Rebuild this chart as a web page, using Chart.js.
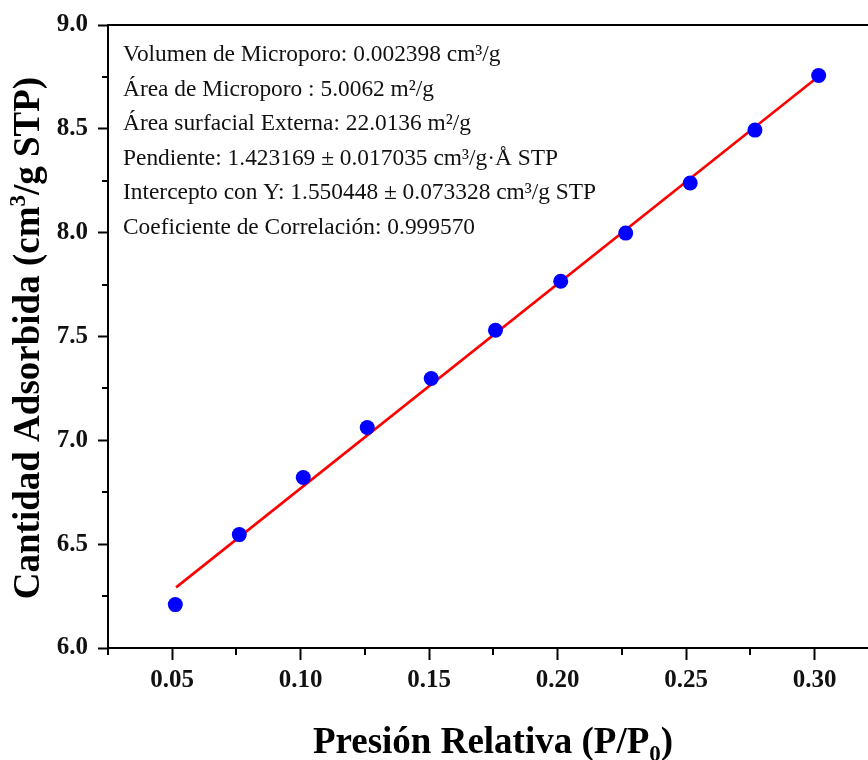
<!DOCTYPE html>
<html>
<head>
<meta charset="utf-8">
<script src="https://cdn.jsdelivr.net/npm/chart.js@4.4.0/dist/chart.umd.min.js"></script>
<style>
  html, body { margin: 0; padding: 0; background: #ffffff; }
  #wrap { width: 868px; height: 760px; position: relative; }
</style>
</head>
<body>
<div id="wrap"><canvas id="c" width="868" height="760"></canvas></div>
<script>
// Relative pressure (P/P0) and adsorbed quantity (cm3/g STP)
const pressure = [0.0512, 0.0761, 0.1010, 0.1259, 0.1508, 0.1758, 0.2012, 0.2265, 0.2516, 0.2768, 0.3016];
const adsorbed = [6.209, 6.546, 6.821, 7.062, 7.298, 7.530, 7.766, 7.998, 8.239, 8.494, 8.757];

// Linear fit end points
const fitX = [0.0515, 0.3014];
const fitY = [6.292, 8.751];

// Axis ticks
const xTicks = [0.05, 0.10, 0.15, 0.20, 0.25, 0.30];
const xMinorTicks = [0.025, 0.075, 0.125, 0.175, 0.225, 0.275, 0.325];
const yTicks = [6.0, 6.5, 7.0, 7.5, 8.0, 8.5, 9.0];
const yMinorTicks = [6.25, 6.75, 7.25, 7.75, 8.25, 8.75];

// Fit results shown inside the plot
const notes = [
  'Volumen de Microporo: 0.002398 cm³/g',
  'Área de Microporo : 5.0062 m²/g',
  'Área surfacial Externa: 22.0136 m²/g',
  'Pendiente: 1.423169 ± 0.017035 cm³/g·Å STP',
  'Intercepto con Y: 1.550448 ± 0.073328 cm³/g STP',
  'Coeficiente de Correlación: 0.999570'
];

const SERIF = '"Liberation Serif", "DejaVu Serif", serif';

// Draws a string made of normal / superscript / subscript pieces, centred at (cx, baseline)
function drawRich(ctx, parts, cx, baseline, size) {
  const small = Math.round(size * 0.62);
  let total = 0;
  parts.forEach(p => {
    ctx.font = 'bold ' + (p.s ? small : size) + 'px ' + SERIF;
    p.w = ctx.measureText(p.t).width;
    total += p.w;
  });
  let x = cx - total / 2;
  ctx.textAlign = 'left';
  ctx.textBaseline = 'alphabetic';
  parts.forEach(p => {
    ctx.font = 'bold ' + (p.s ? small : size) + 'px ' + SERIF;
    let dy = 0;
    if (p.s === 'sup') dy = -size * 0.38;
    if (p.s === 'sub') dy = size * 0.22;
    ctx.fillText(p.t, x, baseline + dy);
    x += p.w;
  });
}

const decor = {
  id: 'decor',
  afterDraw(chart) {
    const ctx = chart.ctx;
    const area = chart.chartArea;
    const xs = chart.scales.x, ys = chart.scales.y;
    ctx.save();
    ctx.strokeStyle = '#000';
    ctx.lineWidth = 2;
    // top frame line
    ctx.beginPath();
    ctx.moveTo(area.left - 1, area.top);
    ctx.lineTo(area.right, area.top);
    ctx.stroke();
    // minor ticks
    ctx.beginPath();
    xMinorTicks.forEach(v => {
      const px = Math.round(xs.getPixelForValue(v));
      if (px < area.left - 1 || px > area.right) return;
      ctx.moveTo(px, area.bottom);
      ctx.lineTo(px, area.bottom + 7);
    });
    yMinorTicks.forEach(v => {
      const py = Math.round(ys.getPixelForValue(v));
      ctx.moveTo(area.left, py);
      ctx.lineTo(area.left - 6, py);
    });
    ctx.stroke();

    // annotation lines
    ctx.fillStyle = '#111';
    ctx.font = '23.4px ' + SERIF;
    ctx.textAlign = 'left';
    ctx.textBaseline = 'alphabetic';
    notes.forEach((t, i) => ctx.fillText(t, 123, 61 + i * 34.5));

    // axis titles
    ctx.fillStyle = '#000';
    drawRich(ctx, [{t: 'Presión Relativa (P/P'}, {t: '0', s: 'sub'}, {t: ')'}], 493, 753, 37);
    ctx.translate(39, 338);
    ctx.rotate(-Math.PI / 2);
    drawRich(ctx, [{t: 'Cantidad Adsorbida (cm'}, {t: '3', s: 'sup'}, {t: '/g STP)'}], 0, 0, 37);
    ctx.restore();
  }
};

const tickFont = { family: SERIF, size: 25, weight: 'bold' };

new Chart(document.getElementById('c'), {
  type: 'scatter',
  data: {
    datasets: [
      {
        label: 'Ajuste',
        type: 'line',
        data: fitX.map((x, i) => ({ x: x, y: fitY[i] })),
        borderColor: '#ff0000',
        borderWidth: 2.6,
        pointRadius: 0,
        fill: false,
        order: 2
      },
      {
        label: 'Datos',
        data: pressure.map((x, i) => ({ x: x, y: adsorbed[i] })),
        backgroundColor: '#0000ff',
        borderWidth: 0,
        pointRadius: 7.5,
        pointHoverRadius: 7.5,
        order: 1
      }
    ]
  },
  options: {
    responsive: false,
    animation: false,
    events: [],
    layout: { autoPadding: false, padding: { top: 25, right: 0, left: 0, bottom: 0 } },
    plugins: { legend: { display: false }, tooltip: { enabled: false } },
    scales: {
      x: {
        type: 'linear',
        min: 0.025,
        max: 0.3208,
        afterBuildTicks: s => { s.ticks = xTicks.map(v => ({ value: v })); },
        afterFit: s => { s.height = 112; s.paddingLeft = 0; s.paddingRight = 0; },
        border: { display: true, color: '#000', width: 2 },
        grid: { drawOnChartArea: false, drawTicks: true, tickLength: 12, tickWidth: 2, tickColor: '#000' },
        ticks: {
          color: '#111',
          font: tickFont,
          padding: 6,
          maxRotation: 0,
          callback: v => Number(v).toFixed(2)
        }
      },
      y: {
        type: 'linear',
        min: 6.0,
        max: 9.0,
        afterBuildTicks: s => { s.ticks = yTicks.map(v => ({ value: v })); },
        afterFit: s => { s.width = 108; s.paddingTop = 0; s.paddingBottom = 0; },
        border: { display: true, color: '#000', width: 2 },
        grid: { drawOnChartArea: false, drawTicks: true, tickLength: 10, tickWidth: 2, tickColor: '#000' },
        ticks: {
          color: '#111',
          font: tickFont,
          padding: 10,
          callback: v => Number(v).toFixed(1)
        }
      }
    }
  },
  plugins: [decor]
});
</script>
</body>
</html>
